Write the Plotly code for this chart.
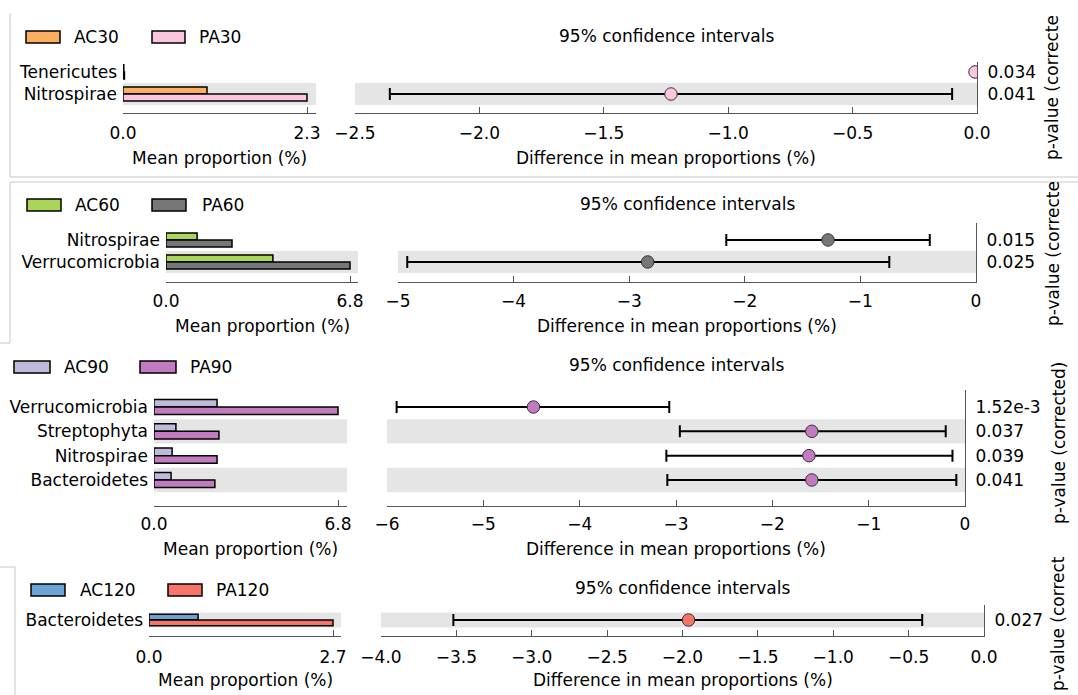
import plotly.graph_objects as go

W, H = 1078, 695
FONT = "DejaVu Sans"
FS = 17

# ---------------- data ----------------
p1_taxa = ["Tenericutes", "Nitrospirae"]
p1_groups = ["AC30", "PA30"]
p1_ac = [0.010, 1.05]
p1_pa = [0.018, 2.30]
p1_diff = [-0.008, -1.23]
p1_ci_lo = [-0.015, -2.36]
p1_ci_hi = [-0.001, -0.10]
p1_pval = ["0.034", "0.041"]

p2_taxa = ["Nitrospirae", "Verrucomicrobia"]
p2_groups = ["AC60", "PA60"]
p2_ac = [1.15, 3.95]
p2_pa = [2.44, 6.80]
p2_diff = [-1.28, -2.84]
p2_ci_lo = [-2.16, -4.92]
p2_ci_hi = [-0.40, -0.75]
p2_pval = ["0.015", "0.025"]

p3_taxa = ["Verrucomicrobia", "Streptophyta", "Nitrospirae", "Bacteroidetes"]
p3_groups = ["AC90", "PA90"]
p3_ac = [2.33, 0.81, 0.67, 0.63]
p3_pa = [6.80, 2.40, 2.33, 2.25]
p3_diff = [-4.48, -1.59, -1.62, -1.59]
p3_ci_lo = [-5.90, -2.96, -3.10, -3.09]
p3_ci_hi = [-3.07, -0.20, -0.13, -0.09]
p3_pval = ["1.52e-3", "0.037", "0.039", "0.041"]

p4_taxa = ["Bacteroidetes"]
p4_groups = ["AC120", "PA120"]
p4_ac = [0.72]
p4_pa = [2.70]
p4_diff = [-1.96]
p4_ci_lo = [-3.52]
p4_ci_hi = [-0.41]
p4_pval = ["0.027"]

ci_title = "95% confidence intervals"
bar_xtitle = "Mean proportion (%)"
diff_xtitle = "Difference in mean proportions (%)"

# ---------------- styles / geometry (pixels) ----------------
panels = [
    dict(taxa=p1_taxa, groups=p1_groups, ac=p1_ac, pa=p1_pa, diff=p1_diff,
         lo=p1_ci_lo, hi=p1_ci_hi, pval=p1_pval,
         c_ac="#FCAD5F", c_pa="#FAC6DF",
         bar=(123, 316, 307), dx=(355, 977), drange=(-2.5, 0), dtick=0.5, dfmt=".1f",
         ytop=62, ybot=113, yr=(-0.86, 1.45), bw=0.32,
         leg_y=37, leg=[(26, 60, 72), (152, 185, 197)], title_y=36,
         tick_y=130, axt_y=158, plab=(1052, 88, "p-value (correcte")),
    dict(taxa=p2_taxa, groups=p2_groups, ac=p2_ac, pa=p2_pa, diff=p2_diff,
         lo=p2_ci_lo, hi=p2_ci_hi, pval=p2_pval,
         c_ac="#A9D65A", c_pa="#777777",
         bar=(166, 358, 350), dx=(398, 976), drange=(-5, 0), dtick=1, dfmt="d",
         ytop=223, ybot=282, yr=(-0.91, 1.77), bw=0.32,
         leg_y=205, leg=[(27, 61, 73), (152, 186, 200)], title_y=204,
         tick_y=298, axt_y=326, plab=(1053, 254, "p-value (correcte")),
    dict(taxa=p3_taxa, groups=p3_groups, ac=p3_ac, pa=p3_pa, diff=p3_diff,
         lo=p3_ci_lo, hi=p3_ci_hi, pval=p3_pval,
         c_ac="#BEBADA", c_pa="#C27BC0",
         bar=(154, 347, 338), dx=(387, 965), drange=(-6, 0), dtick=1, dfmt="d",
         ytop=390, ybot=506, yr=(-1.07, 3.7), bw=0.31,
         leg_y=367, leg=[(14, 50, 62), (140, 176, 188)], title_y=365,
         tick_y=521, axt_y=549, plab=(1059, 443, "p-value (corrected)")),
    dict(taxa=p4_taxa, groups=p4_groups, ac=p4_ac, pa=p4_pa, diff=p4_diff,
         lo=p4_ci_lo, hi=p4_ci_hi, pval=p4_pval,
         c_ac="#6BA3D4", c_pa="#F8736A",
         bar=(149, 341, 333), dx=(381, 984), drange=(-4, 0), dtick=0.5, dfmt=".1f",
         ytop=605, ybot=636, yr=(-1.07, 1.0), bw=0.38,
         leg_y=590, leg=[(31, 65, 78), (168, 202, 214)], title_y=588,
         tick_y=654, axt_y=680, plab=(1058, 624, "p-value (correct")),
]

AXCOL = "#555555"
BAND = "#E5E5E5"


def px(x):
    return x / W


def py(y):
    return 1 - y / H


def axname(kind, i):
    return f"{kind}axis" if i == 1 else f"{kind}axis{i}"


def axref(kind, i):
    return kind if i == 1 else f"{kind}{i}"


fig = go.Figure()
layout = {}
shapes = []
annotations = []

for k, P in enumerate(panels):
    ib, idf = 2 * k + 1, 2 * k + 2
    n = len(P["taxa"])
    yv = [n - 1 - i for i in range(n)]
    bw = P["bw"]
    x0, x1, xt = P["bar"]
    vmax = max(max(P["ac"]), max(P["pa"]))
    xmax = vmax * (x1 - x0) / (xt - x0)
    ydom = [py(P["ybot"]), py(P["ytop"])]
    std_tick = max(P["tick_y"] - P["ybot"] - 12, 0)

    # bars
    fig.add_trace(go.Bar(
        x=P["ac"], y=yv, orientation="h", width=[bw] * n, offset=0,
        marker=dict(color=P["c_ac"], line=dict(color="black", width=1.5)),
        name=P["groups"][0], showlegend=False,
        xaxis=axref("x", ib), yaxis=axref("y", ib)))
    fig.add_trace(go.Bar(
        x=P["pa"], y=yv, orientation="h", width=[bw] * n, offset=-bw,
        marker=dict(color=P["c_pa"], line=dict(color="black", width=1.5)),
        name=P["groups"][1], showlegend=False,
        xaxis=axref("x", ib), yaxis=axref("y", ib)))
    # differences with CI
    fig.add_trace(go.Scatter(
        x=P["diff"], y=yv, mode="markers",
        marker=dict(size=12.5, color=P["c_pa"], line=dict(color="#333333", width=1)),
        error_x=dict(type="data", symmetric=False,
                     array=[h - d for h, d in zip(P["hi"], P["diff"])],
                     arrayminus=[d - l for d, l in zip(P["diff"], P["lo"])],
                     color="black", thickness=2, width=6),
        showlegend=False,
        xaxis=axref("x", idf), yaxis=axref("y", idf)))

    common_x = dict(showgrid=False, zeroline=False, showline=True, linecolor=AXCOL,
                    linewidth=1, ticks="inside", ticklen=6, tickcolor=AXCOL,
                    automargin=False,
                    tickfont=dict(family=FONT, size=FS, color="black"),
                    ticklabelstandoff=std_tick)
    layout[axname("x", ib)] = dict(
        common_x, domain=[px(x0), px(x1)], range=[0, xmax],
        anchor=axref("y", ib), tickvals=[0, vmax],
        ticktext=["0.0", f"{vmax:.1f}"])
    layout[axname("y", ib)] = dict(
        domain=ydom, range=list(P["yr"]), anchor=axref("x", ib), automargin=False,
        showgrid=False, zeroline=False, showline=False, ticks="",
        tickvals=yv, ticktext=P["taxa"], ticklabelstandoff=5,
        tickfont=dict(family=FONT, size=FS, color="black"))
    d0, d1 = P["dx"]
    layout[axname("x", idf)] = dict(
        common_x, domain=[px(d0), px(d1)], range=list(P["drange"]),
        anchor=axref("y", idf), tick0=P["drange"][0], dtick=P["dtick"],
        tickformat=P["dfmt"])
    layout[axname("y", idf)] = dict(
        domain=ydom, range=list(P["yr"]), anchor=axref("x", idf), side="right",
        automargin=False,
        showgrid=False, zeroline=False, showline=True, linecolor=AXCOL, linewidth=1,
        ticks="", tickvals=yv, ticktext=P["pval"], ticklabelstandoff=6,
        tickfont=dict(family=FONT, size=FS, color="black"))

    # alternating bands (from bottom row)
    for v in yv:
        if v % 2 == 0:
            for idx in (ib, idf):
                shapes.append(dict(type="rect", xref=f"{axref('x', idx)} domain",
                                   yref=axref("y", idx), x0=0, x1=1,
                                   y0=v - 0.5, y1=v + 0.5, fillcolor=BAND,
                                   line=dict(width=0), layer="below"))

    # legend patches
    for (lx0, lx1, tx), g, c in zip(P["leg"], P["groups"], (P["c_ac"], P["c_pa"])):
        shapes.append(dict(type="rect", xref="paper", yref="paper",
                           x0=px(lx0), x1=px(lx1), y0=py(P["leg_y"] + 6),
                           y1=py(P["leg_y"] - 6), fillcolor=c,
                           line=dict(color="black", width=1.5)))
        annotations.append(dict(text=g, xref="paper", yref="paper", x=px(tx),
                                y=py(P["leg_y"]), xanchor="left", yanchor="middle",
                                showarrow=False,
                                font=dict(family=FONT, size=FS, color="black")))
    # titles
    annotations.append(dict(text=ci_title, xref="paper", yref="paper",
                            x=px((d0 + d1) / 2), y=py(P["title_y"]), xanchor="center",
                            yanchor="middle", showarrow=False,
                            font=dict(family=FONT, size=FS, color="black")))
    annotations.append(dict(text=bar_xtitle, xref="paper", yref="paper",
                            x=px((x0 + x1) / 2), y=py(P["axt_y"]), xanchor="center",
                            yanchor="middle", showarrow=False,
                            font=dict(family=FONT, size=FS, color="black")))
    annotations.append(dict(text=diff_xtitle, xref="paper", yref="paper",
                            x=px((d0 + d1) / 2), y=py(P["axt_y"]), xanchor="center",
                            yanchor="middle", showarrow=False,
                            font=dict(family=FONT, size=FS, color="black")))
    lx, ly, ltxt = P["plab"]
    annotations.append(dict(text=ltxt, xref="paper", yref="paper",
                            x=px(lx), y=py(ly), xanchor="center", yanchor="middle",
                            textangle=-90, showarrow=False,
                            font=dict(family=FONT, size=FS, color="black")))

# decorative frame lines of the stitched screenshot
BORDER = "#C8C8C8"
frame = [
    (10, 13, 10, 177), (10, 177, 1078, 177),
    (10, 182, 1078, 182), (10, 182, 10, 343), (0, 343, 10, 343),
    (15, 567, 15, 695), (0, 567, 15, 567),
]
for (ax0, ay0, ax1, ay1) in frame:
    shapes.append(dict(type="line", xref="paper", yref="paper",
                       x0=px(ax0), y0=py(ay0), x1=px(ax1), y1=py(ay1),
                       line=dict(color=BORDER, width=1)))

fig.update_layout(
    width=W, height=H, margin=dict(l=0, r=0, t=0, b=0, autoexpand=False),
    paper_bgcolor="white", plot_bgcolor="rgba(0,0,0,0)",
    barmode="overlay", showlegend=False,
    font=dict(family=FONT, size=FS, color="black"),
    shapes=shapes, annotations=annotations, **layout)

fig.write_html("out.html")
